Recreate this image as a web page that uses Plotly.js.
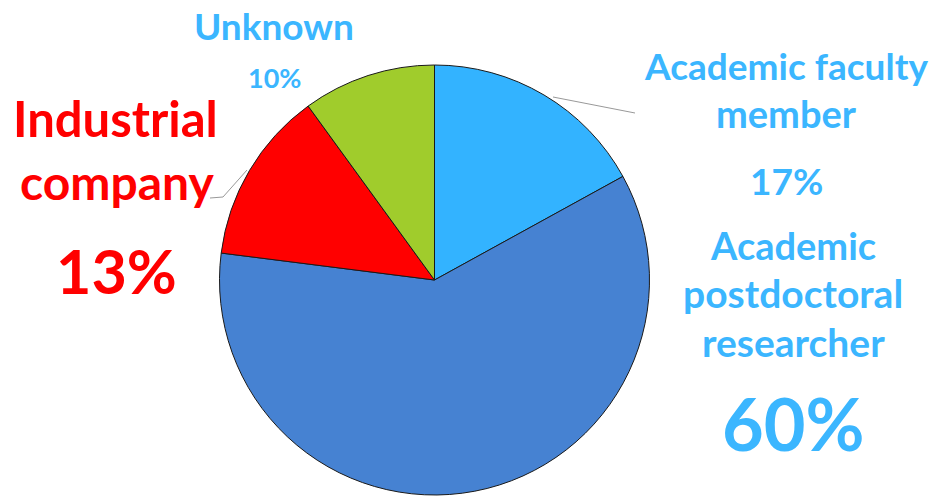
<!DOCTYPE html>
<html><head><meta charset="utf-8">
<script src="https://cdn.plot.ly/plotly-3.0.1.min.js"></script>
<style>html,body{margin:0;padding:0;background:#fff;}#chart{width:938px;height:496px;}</style>
</head><body><div id="chart"></div>
<script>
const categories = ["Academic faculty member", "Academic postdoctoral researcher", "Industrial company", "Unknown"];
const shares = [17, 60, 13, 10];
const sliceColors = ["#33B3FF", "#4682D2", "#FF0000", "#A0CC2C"];

const W = 938, H = 496;
const px = x => x / W;
const py = y => 1 - y / H;
const FONT = "Lato, 'Open Sans', sans-serif";
const BLUE = "#3BB6FF", RED = "#FF0000";

function ann(text, x, y, size, color) {
  return {text: "<b>" + text + "</b>", x: px(x), y: py(y), xref: "paper", yref: "paper",
    xanchor: "center", yanchor: "middle", showarrow: false,
    font: {family: FONT, size: size, color: color}};
}

const annotations = [
  ann("Unknown", 274, 25, 37, BLUE),
  ann(shares[3] + "%", 274, 78, 27, BLUE),
  ann("Industrial", 115, 118, 49, RED),
  ann("company", 117, 181, 48, RED),
  ann(shares[2] + "%", 116, 270, 61, RED),
  ann("Academic faculty", 786, 65, 37, BLUE),
  ann("member", 786, 113, 38, BLUE),
  ann(shares[0] + "%", 786, 180, 37, BLUE),
  ann("Academic", 793, 245, 38, BLUE),
  ann("postdoctoral", 793, 293, 39, BLUE),
  ann("researcher", 793, 342, 39, BLUE),
  ann(shares[1] + "%", 793, 423, 72, BLUE)
];

const shapes = [
  {type: "path", xref: "paper", yref: "paper",
   path: `M ${px(553)} ${py(97)} L ${px(635)} ${py(113)}`, line: {color: "#999", width: 1}},
  {type: "path", xref: "paper", yref: "paper",
   path: `M ${px(247)} ${py(170)} L ${px(223)} ${py(197)} L ${px(210)} ${py(198)}`, line: {color: "#999", width: 1}}
];

const data = [{
  type: "pie",
  labels: categories,
  values: shares,
  sort: false,
  direction: "clockwise",
  rotation: 0,
  textinfo: "none",
  hoverinfo: "label+percent",
  marker: {colors: sliceColors, line: {color: "#1a1a1a", width: 1}},
  domain: {x: [px(219), px(650)], y: [py(495), py(65)]},
  showlegend: false
}];

const layout = {
  width: W, height: H,
  margin: {l: 0, r: 0, t: 0, b: 0},
  paper_bgcolor: "#fff",
  showlegend: false,
  annotations: annotations,
  shapes: shapes
};

Plotly.newPlot("chart", data, layout, {displayModeBar: false, staticPlot: true});
</script></body></html>
